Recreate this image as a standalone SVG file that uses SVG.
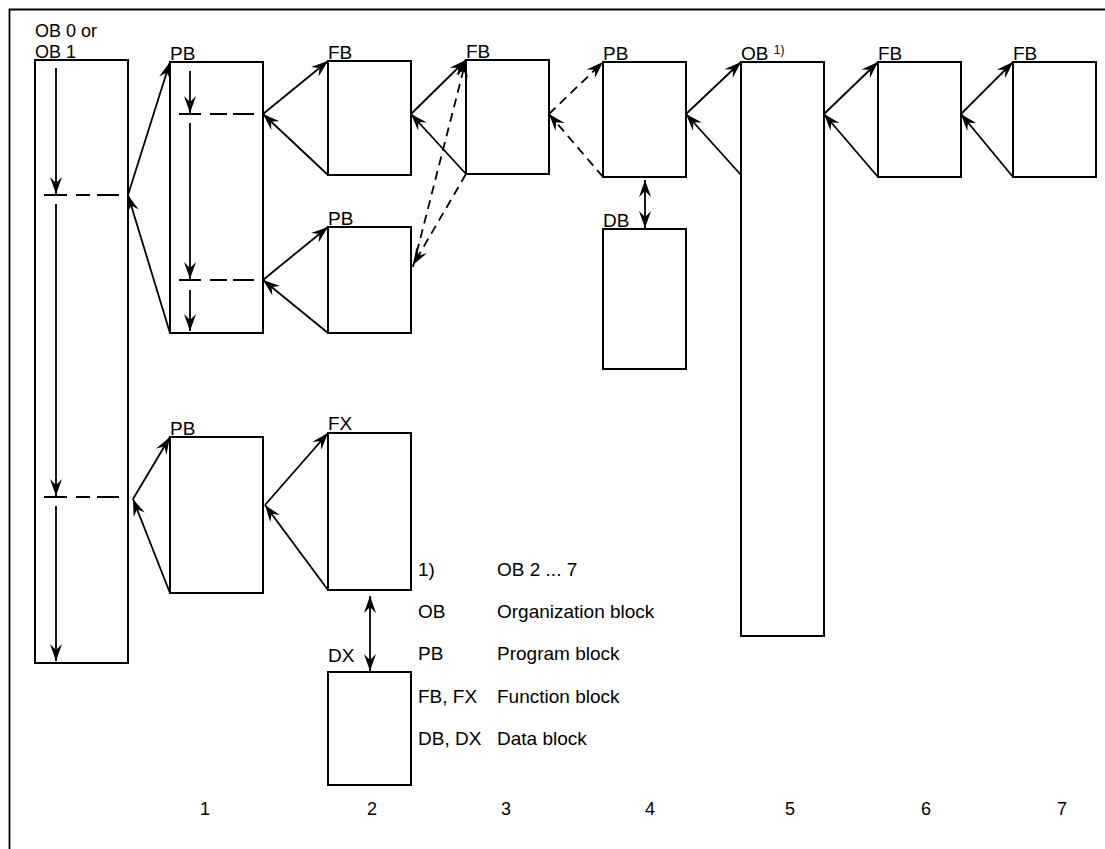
<svg xmlns="http://www.w3.org/2000/svg" width="1105" height="849" viewBox="0 0 1105 849">
<style>
.box{fill:none;stroke:#000;stroke-width:2}
.ln{fill:none;stroke:#000;stroke-width:1.8}
.dash{stroke-dasharray:9,6}
.t{font-family:"Liberation Sans",Arial,sans-serif;font-size:19px;fill:#000}
.sm{font-size:18px}
.sup{font-size:12px}
.num{text-anchor:middle;font-size:18px}
</style>
<defs>
<marker id="ah" markerUnits="userSpaceOnUse" markerWidth="20" markerHeight="16" viewBox="-18 -8 20 16" refX="0" refY="0" orient="auto-start-reverse">
<path d="M0,0 L-17,-6 L-11,0 L-17,6 Z" fill="#000" stroke="none"/>
</marker>
</defs>
<rect width="1105" height="849" fill="#fff"/>
<path class="ln" d="M9.5,849 V9.5 H1105" stroke-width="2"/>

<g id="ob01">
<rect class="box" x="35" y="60" width="93" height="603"/>
<text class="t sm" x="35" y="37">OB 0 or</text>
<text class="t sm" x="35" y="58">OB 1</text>
<line class="ln" x1="56" y1="68" x2="56" y2="194" marker-end="url(#ah)"/>
<line class="ln" x1="56" y1="204" x2="56" y2="496" marker-end="url(#ah)"/>
<line class="ln" x1="56" y1="506" x2="56" y2="661" marker-end="url(#ah)"/>
<path class="ln" d="M44,195 H67 M76,195 H90 M97,195 H119"/>
<path class="ln" d="M44,497 H67 M76,497 H90 M97,497 H119"/>
</g>

<g id="pb1">
<rect class="box" x="170" y="62" width="93" height="271"/>
<text class="t" x="170" y="60">PB</text>
<line class="ln" x1="190" y1="71" x2="190" y2="113" marker-end="url(#ah)"/>
<line class="ln" x1="190" y1="123" x2="190" y2="279" marker-end="url(#ah)"/>
<line class="ln" x1="190" y1="290" x2="190" y2="331" marker-end="url(#ah)"/>
<path class="ln" d="M179,114 H201 M210,114 H227 M233,114 H254"/>
<path class="ln" d="M179,280 H201 M210,280 H227 M233,280 H254"/>
</g>

<g id="fb1">
<rect class="box" x="328" y="61" width="83" height="114"/>
<text class="t" x="328" y="59">FB</text>
</g>

<g id="pb2">
<rect class="box" x="328" y="227" width="83" height="106"/>
<text class="t" x="328" y="225">PB</text>
</g>

<g id="fb2">
<rect class="box" x="466" y="60" width="83" height="114"/>
<text class="t" x="466" y="58">FB</text>
</g>

<g id="pb4">
<rect class="box" x="603" y="62" width="83" height="115"/>
<text class="t" x="603" y="60">PB</text>
</g>

<g id="db">
<rect class="box" x="603" y="229" width="83" height="140"/>
<text class="t" x="603" y="227">DB</text>
</g>

<g id="ob5">
<rect class="box" x="741" y="62" width="83" height="574"/>
<text class="t" x="741" y="60">OB <tspan class="sup" dy="-6">1)</tspan></text>
</g>

<g id="fb6">
<rect class="box" x="878" y="62" width="83" height="115"/>
<text class="t" x="878" y="60">FB</text>
</g>

<g id="fb7">
<rect class="box" x="1013" y="62" width="83" height="115"/>
<text class="t" x="1013" y="60">FB</text>
</g>

<g id="pb3">
<rect class="box" x="170" y="437" width="93" height="156"/>
<text class="t" x="170" y="435">PB</text>
</g>

<g id="fx">
<rect class="box" x="328" y="433" width="83" height="157"/>
<text class="t" x="328" y="430">FX</text>
</g>

<g id="dx">
<rect class="box" x="328" y="672" width="83" height="113"/>
<text class="t" x="328" y="662">DX</text>
</g>

<g id="connectors">
<line class="ln" x1="128" y1="195" x2="170" y2="62" marker-end="url(#ah)"/>
<line class="ln" x1="170" y1="333" x2="128" y2="195" marker-end="url(#ah)"/>
<line class="ln" x1="133" y1="499" x2="170" y2="437" marker-end="url(#ah)"/>
<line class="ln" x1="170" y1="593" x2="133" y2="499" marker-end="url(#ah)"/>
<line class="ln" x1="263" y1="114" x2="328" y2="61" marker-end="url(#ah)"/>
<line class="ln" x1="328" y1="175" x2="263" y2="114" marker-end="url(#ah)"/>
<line class="ln" x1="263" y1="280" x2="328" y2="227" marker-end="url(#ah)"/>
<line class="ln" x1="328" y1="333" x2="263" y2="280" marker-end="url(#ah)"/>
<line class="ln" x1="411" y1="114" x2="466" y2="60" marker-end="url(#ah)"/>
<line class="ln" x1="466" y1="174" x2="411" y2="114" marker-end="url(#ah)"/>
<line class="ln dash" x1="413" y1="267" x2="466" y2="60" marker-end="url(#ah)"/>
<line class="ln dash" x1="466" y1="174" x2="413" y2="265" marker-end="url(#ah)"/>
<line class="ln dash" x1="549" y1="114" x2="603" y2="62" marker-end="url(#ah)"/>
<line class="ln dash" x1="603" y1="177" x2="549" y2="114" marker-end="url(#ah)"/>
<line class="ln" x1="686" y1="114" x2="741" y2="62" marker-end="url(#ah)"/>
<line class="ln" x1="741" y1="175" x2="686" y2="114" marker-end="url(#ah)"/>
<line class="ln" x1="824" y1="114" x2="878" y2="62" marker-end="url(#ah)"/>
<line class="ln" x1="878" y1="177" x2="824" y2="114" marker-end="url(#ah)"/>
<line class="ln" x1="961" y1="114" x2="1013" y2="62" marker-end="url(#ah)"/>
<line class="ln" x1="1013" y1="177" x2="961" y2="114" marker-end="url(#ah)"/>
<line class="ln" x1="265" y1="505" x2="328" y2="433" marker-end="url(#ah)"/>
<line class="ln" x1="328" y1="590" x2="265" y2="505" marker-end="url(#ah)"/>
<line class="ln" x1="645" y1="180" x2="645" y2="228" marker-start="url(#ah)" marker-end="url(#ah)"/>
<line class="ln" x1="370" y1="596" x2="370" y2="671" marker-start="url(#ah)" marker-end="url(#ah)"/>
</g>

<g id="legend">
<text class="t" x="418" y="576">1)</text>
<text class="t" x="497" y="576">OB 2 ... 7</text>
<text class="t" x="418" y="618">OB</text>
<text class="t" x="497" y="618">Organization block</text>
<text class="t" x="418" y="660">PB</text>
<text class="t" x="497" y="660">Program block</text>
<text class="t" x="418" y="703">FB, FX</text>
<text class="t" x="497" y="703">Function block</text>
<text class="t" x="418" y="745">DB, DX</text>
<text class="t" x="497" y="745">Data block</text>
</g>

<g id="numbers">
<text class="t num" x="205" y="815">1</text>
<text class="t num" x="372" y="815">2</text>
<text class="t num" x="506" y="815">3</text>
<text class="t num" x="650" y="815">4</text>
<text class="t num" x="790" y="815">5</text>
<text class="t num" x="926" y="815">6</text>
<text class="t num" x="1062" y="815">7</text>
</g>
</svg>
